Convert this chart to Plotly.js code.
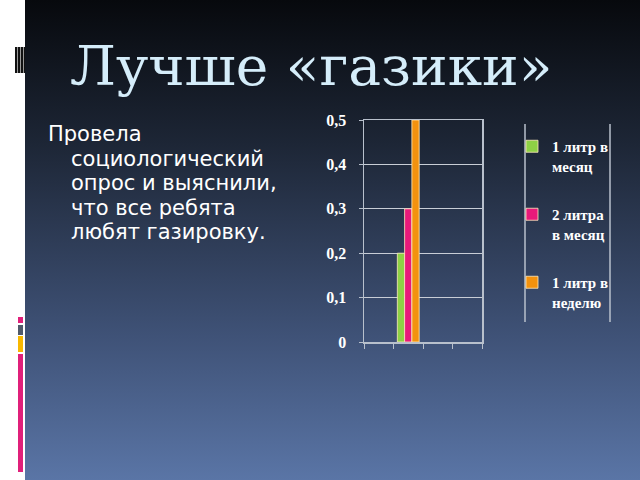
<!DOCTYPE html>
<html>
<head>
<meta charset="utf-8">
<script src="https://cdn.plot.ly/plotly-3.0.1.min.js"></script>
<style>
  html, body { margin: 0; padding: 0; background: #ffffff; }
  #slide { position: absolute; left: 25px; top: 0; width: 615px; height: 480px;
           background: linear-gradient(to bottom, #07090d 0%, #1d2636 30%, #3f5277 70%, #5a75a6 100%); }
  #graph { position: absolute; left: 0; top: 0; width: 640px; height: 480px; }
  .deco { position: absolute; left: 18px; width: 5px; }
  #stripes { position: absolute; left: 15px; top: 47px; width: 10px; height: 26px;
             background: repeating-linear-gradient(to right, #111 0px, #111 2px, #999 2px, #999 3px); }
</style>
</head>
<body>
<div id="slide"></div>
<div id="stripes"></div>
<div class="deco" style="top:317px;height:6px;background:#e0207a"></div>
<div class="deco" style="top:325px;height:10px;background:#505a6a"></div>
<div class="deco" style="top:336px;height:16px;background:#f8b800"></div>
<div class="deco" style="top:354px;height:118px;background:#e0207a"></div>
<div id="graph"></div>
<script>
// slots on the x axis (only the second one is filled)
var categories = ['1', '2', '3', '4'];
var seriesNames = ['1 литр в<br>месяц', '2 литра<br>в месяц', '1 литр в<br>неделю'];
var oneLitreMonth = [null, 0.2, null, null];
var twoLitresMonth = [null, 0.3, null, null];
var oneLitreWeek = [null, 0.5, null, null];
var colors = ['#8ed145', '#e8197a', '#f3920e'];
var yTicks = [0, 0.1, 0.2, 0.3, 0.4, 0.5];

var titleText = 'Лучше «газики»';
var bodyLines = ['Провела', 'социологический', 'опрос и выяснили,', 'что все ребята', 'любят газировку.'];

var serif = 'Liberation Serif, Times New Roman, serif';
var values = [oneLitreMonth, twoLitresMonth, oneLitreWeek];

var data = values.map(function(v, i){
    return {
        type: 'bar',
        x: categories,
        y: v,
        name: seriesNames[i],
        legendgroup: 'g' + i,
        marker: { color: colors[i], line: { color: 'rgba(255,235,190,0.8)', width: 1 } },
        hoverinfo: 'none'
    };
});

var W = 640, H = 480;
function px(x){ return x / W; }
function py(y){ return 1 - y / H; }

var annotations = [
    { text: titleText, xref: 'paper', yref: 'paper', x: px(68), y: py(66),
      xanchor: 'left', yanchor: 'middle', showarrow: false,
      font: { family: 'DejaVu Serif, serif', size: 55, color: '#d5edfa' } }
];
// hanging indent: first line at the margin, the rest indented
bodyLines.forEach(function(line, i){
    annotations.push({
        text: line, xref: 'paper', yref: 'paper',
        x: px(i === 0 ? 46 : 69), y: py(134 + i * 24.6),
        xanchor: 'left', yanchor: 'middle', showarrow: false, align: 'left',
        font: { family: 'DejaVu Sans, sans-serif', size: 21, color: '#ffffff' }
    });
});

var layout = {
    width: W,
    height: H,
    margin: { l: 0, r: 0, t: 0, b: 0 },
    paper_bgcolor: 'rgba(0,0,0,0)',
    plot_bgcolor: 'rgba(0,0,0,0)',
    separators: ', ',
    barmode: 'group',
    bargap: 0.26,
    bargroupgap: 0,
    xaxis: {
        domain: [px(364), px(482)],
        type: 'category',
        tickson: 'boundaries',
        ticks: 'outside',
        ticklen: 5,
        tickcolor: '#b8c0cc',
        showticklabels: false,
        showgrid: false,
        showline: true,
        linecolor: '#b8c0cc',
        linewidth: 1.5,
        mirror: true,
        zeroline: false
    },
    yaxis: {
        domain: [py(342), py(120)],
        range: [0, 0.5],
        tickvals: yTicks,
        ticks: 'outside',
        ticklen: 4,
        tickcolor: '#b8c0cc',
        ticklabelstandoff: 9,
        tickfont: { family: serif, size: 16, color: '#ffffff', weight: 'bold' },
        showgrid: true,
        gridcolor: '#c8cdd6',
        gridwidth: 1,
        showline: true,
        linecolor: '#b8c0cc',
        linewidth: 1.5,
        mirror: true,
        zeroline: false
    },
    showlegend: true,
    legend: {
        x: px(512),
        xanchor: 'left',
        y: py(130),
        yanchor: 'top',
        bgcolor: 'rgba(0,0,0,0)',
        borderwidth: 0,
        traceorder: 'grouped',
        tracegroupgap: 26,
        valign: 'top',
        font: { family: serif, size: 15, color: '#ffffff', weight: 'bold' }
    },
    shapes: [
        { type: 'line', xref: 'paper', yref: 'paper', x0: px(525), x1: px(525), y0: py(124), y1: py(322),
          line: { color: '#b8c0cc', width: 1.5 } },
        { type: 'line', xref: 'paper', yref: 'paper', x0: px(610), x1: px(610), y0: py(124), y1: py(322),
          line: { color: '#b8c0cc', width: 1.5 } }
    ],
    annotations: annotations
};

Plotly.newPlot('graph', data, layout, { displayModeBar: false, staticPlot: true });
</script>
</body>
</html>
